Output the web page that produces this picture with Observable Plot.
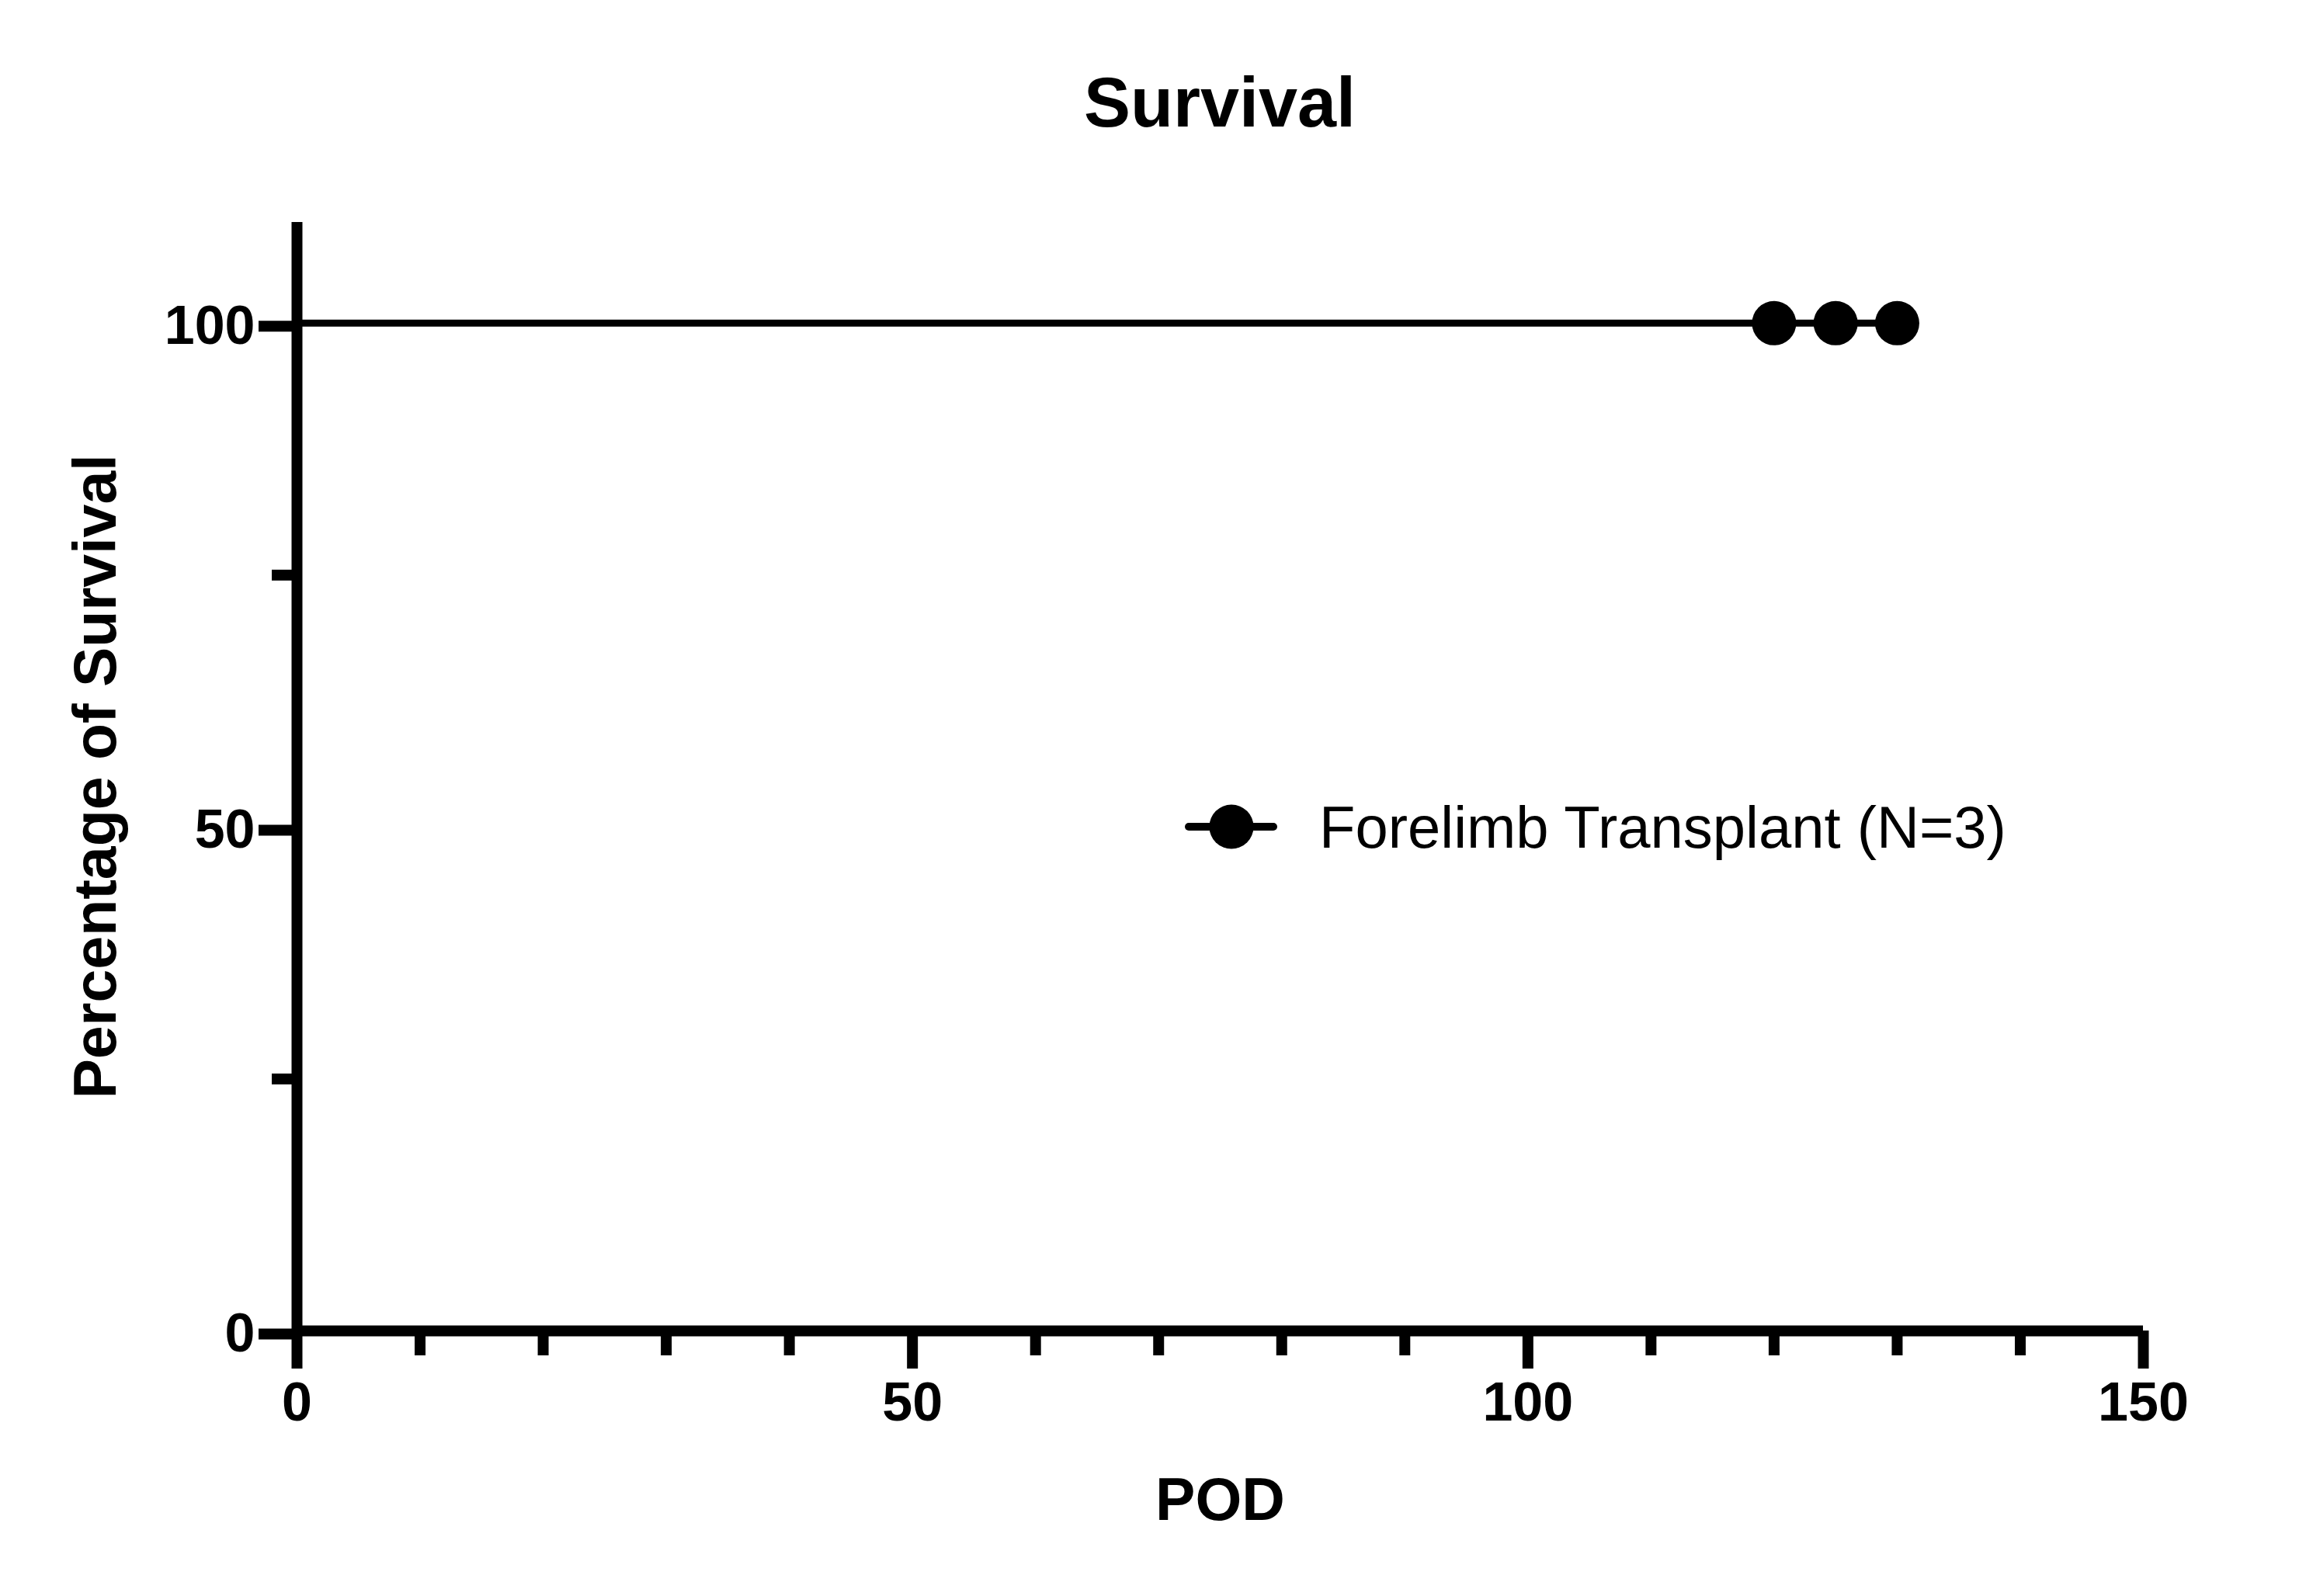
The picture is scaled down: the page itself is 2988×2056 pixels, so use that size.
<!DOCTYPE html>
<html>
<head>
<meta charset="utf-8">
<script src="https://cdn.jsdelivr.net/npm/d3@7"></script>
<script src="https://cdn.jsdelivr.net/npm/@observablehq/plot@0.6"></script>
<style>
  html, body { margin: 0; padding: 0; background: #fff; }
  #wrap { position: relative; width: 2988px; height: 2056px; font-family: "Liberation Sans", Arial, sans-serif; color: #000; }
  #title { position: absolute; left: 382px; width: 2378px; top: 87px; text-align: center; font-size: 90px; font-weight: bold; line-height: 1; white-space: nowrap; }
  #chart { position: absolute; left: 0; top: 200px; }
  #legend-swatch { position: absolute; left: 1520px; top: 1030px; }
  #legend-text { position: absolute; left: 1699px; top: 1028px; font-size: 76px; line-height: 1; white-space: nowrap; }
</style>
</head>
<body>
<div id="wrap">
  <div id="title"></div>
  <div id="chart"></div>
  <svg id="legend-swatch" width="130" height="70"></svg>
  <div id="legend-text"></div>
</div>
<script>
// ---- data ----
const chartTitle = "Survival";
const xLabel = "POD";
const yLabel = "Percentage of Survival";
const seriesName = "Forelimb Transplant (N=3)";

const pod = [0, 120, 125, 130];          // days
const survival = [100, 100, 100, 100];   // percent
const censored = [false, true, true, true];

const xMajorTicks = [0, 50, 100, 150];
const xMinorTicks = [10, 20, 30, 40, 60, 70, 80, 90, 110, 120, 130, 140];
const yMajorTicks = [0, 50, 100];
const yMinorTicks = [25, 75];

const data = pod.map((d, i) => ({pod: d, survival: survival[i], censored: censored[i]}));

document.getElementById("title").textContent = chartTitle;
document.getElementById("legend-text").textContent = seriesName;

const font = '"Liberation Sans", Arial, sans-serif';

const chart = Plot.plot({
  width: 2988,
  height: 1856,
  marginLeft: 382,
  marginRight: 228,
  marginTop: 86,
  marginBottom: 342,
  style: {fontFamily: font, background: "#fff", color: "#000", overflow: "visible"},
  x: {domain: [0, 150]},
  y: {domain: [0, 110]},
  marks: [
    Plot.axisX({ticks: xMinorTicks, tickSize: 32, strokeWidth: 14, tickFormat: () => "", label: null}),
    Plot.axisX({ticks: xMajorTicks, tickSize: 49, strokeWidth: 14, tickPadding: 17, fontSize: 70, fontWeight: "bold", label: null}),
    Plot.axisY({ticks: yMinorTicks, tickSize: 32, strokeWidth: 14, tickFormat: () => "", label: null}),
    Plot.axisY({ticks: yMajorTicks, tickSize: 49, strokeWidth: 14, tickPadding: 5, fontSize: 70, fontWeight: "bold", dy: 4, label: null}),
    Plot.ruleY([0], {strokeWidth: 14, stroke: "#000"}),
    Plot.ruleX([0], {strokeWidth: 14, stroke: "#000"}),
    Plot.line(data, {x: "pod", y: "survival", curve: "step-after", stroke: "#000", strokeWidth: 9}),
    Plot.dot(data.filter(d => d.censored), {x: "pod", y: "survival", r: 28.5, fill: "#000", stroke: "none"}),
    Plot.text([yLabel], {text: d => d, frameAnchor: "left", textAnchor: "middle", rotate: -90, dx: -234, lineAnchor: "bottom", fontSize: 77, fontWeight: "bold", fill: "#000"}),
    Plot.text([xLabel], {text: d => d, frameAnchor: "bottom", dy: 243, lineAnchor: "bottom", fontSize: 77, fontWeight: "bold", fill: "#000"})
  ]
});
document.getElementById("chart").appendChild(chart);

// legend swatch
const sw = d3.select("#legend-swatch");
sw.append("line").attr("x1", 11).attr("x2", 120).attr("y1", 35).attr("y2", 35)
  .attr("stroke", "#000").attr("stroke-width", 10).attr("stroke-linecap", "round");
sw.append("circle").attr("cx", 66).attr("cy", 35).attr("r", 28.5).attr("fill", "#000");
</script>
</body>
</html>
